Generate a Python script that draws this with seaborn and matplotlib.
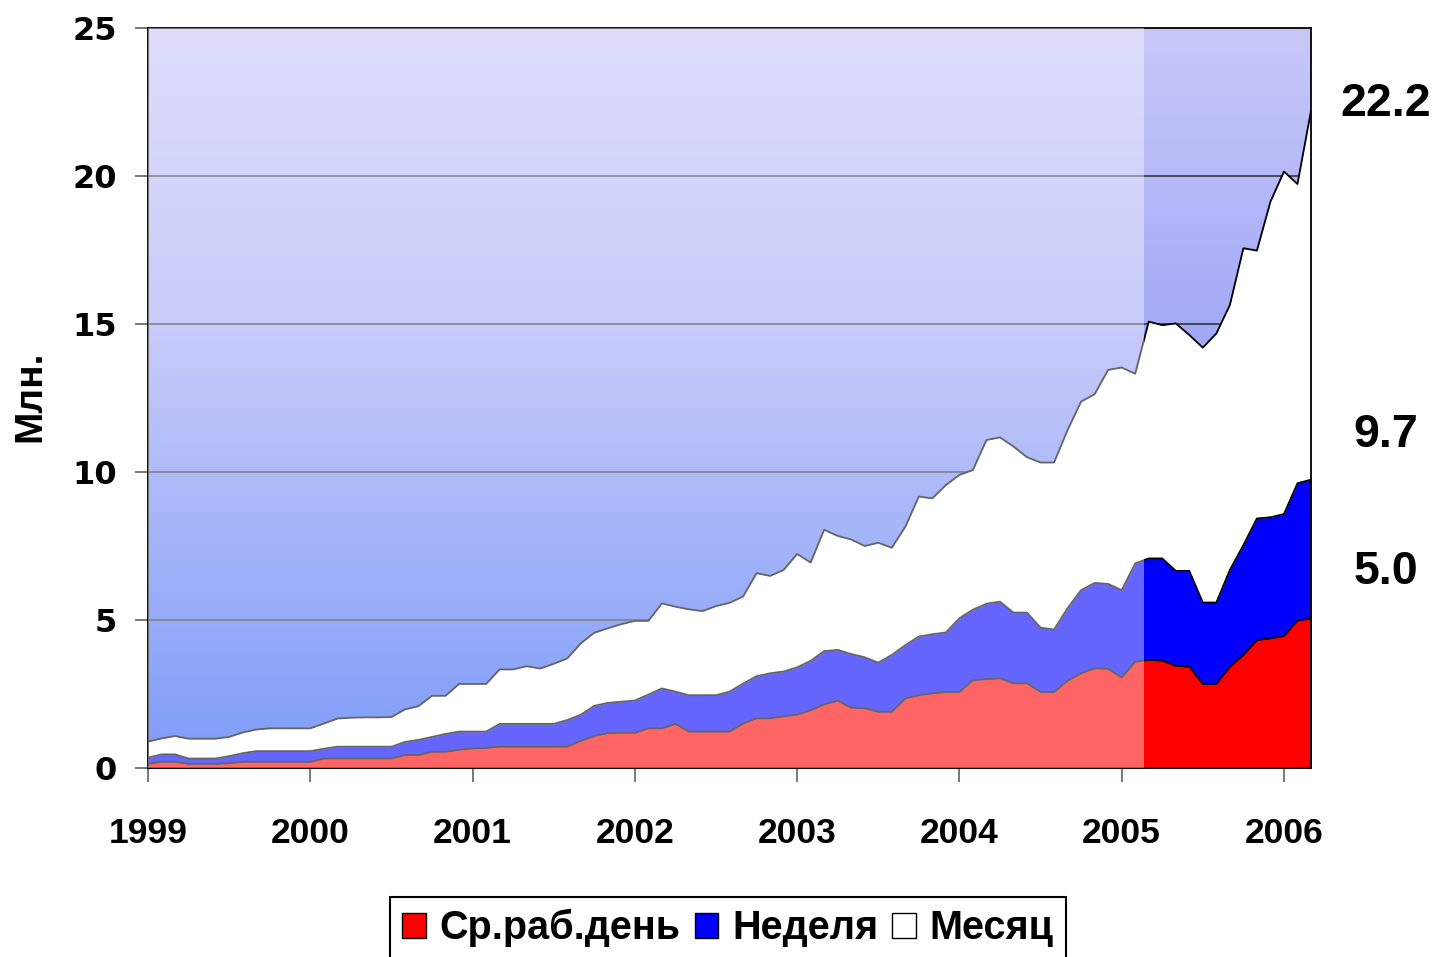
import numpy as np
import pandas as pd
import matplotlib.pyplot as plt
import seaborn as sns
from matplotlib.colors import LinearSegmentedColormap
from matplotlib.patches import Patch

# ── Data: monthly audience, mln (Jan 1999 .. Mar 2006) ─────────
month_idx = np.arange(87)
month_aud = [0.89, 1.00, 1.08, 0.99, 0.99, 0.99, 1.05, 1.20, 1.30, 1.34, 1.34, 1.34,
             1.34, 1.50, 1.67, 1.70, 1.71, 1.71, 1.72, 1.98, 2.09, 2.44, 2.44, 2.84,
             2.84, 2.84, 3.33, 3.33, 3.44, 3.36, 3.52, 3.70, 4.21, 4.57, 4.72, 4.86,
             4.97, 4.97, 5.56, 5.45, 5.36, 5.30, 5.47, 5.58, 5.79, 6.58, 6.49, 6.69,
             7.23, 6.94, 8.05, 7.84, 7.72, 7.50, 7.61, 7.44, 8.15, 9.17, 9.11, 9.56,
             9.90, 10.07, 11.08, 11.17, 10.86, 10.50, 10.32, 10.32, 11.42, 12.38, 12.63, 13.45,
             13.53, 13.32, 15.08, 14.96, 15.02, 14.63, 14.20, 14.68, 15.64, 17.56, 17.48, 19.13,
             20.15, 19.73, 22.20]
week_aud = [0.35, 0.46, 0.46, 0.32, 0.32, 0.32, 0.40, 0.50, 0.57, 0.57, 0.57, 0.57,
            0.57, 0.65, 0.72, 0.72, 0.72, 0.72, 0.72, 0.88, 0.95, 1.05, 1.15, 1.23,
            1.23, 1.23, 1.49, 1.49, 1.49, 1.49, 1.49, 1.62, 1.80, 2.10, 2.20, 2.24,
            2.28, 2.48, 2.69, 2.58, 2.46, 2.46, 2.46, 2.58, 2.85, 3.10, 3.20, 3.26,
            3.40, 3.62, 3.95, 3.99, 3.85, 3.74, 3.56, 3.82, 4.15, 4.44, 4.52, 4.58,
            5.06, 5.35, 5.55, 5.62, 5.25, 5.25, 4.74, 4.68, 5.40, 6.01, 6.25, 6.22,
            6.01, 6.91, 7.08, 7.08, 6.66, 6.66, 5.59, 5.59, 6.69, 7.53, 8.43, 8.47,
            8.58, 9.62, 9.74]
day_aud = [0.14, 0.21, 0.21, 0.14, 0.14, 0.14, 0.16, 0.21, 0.21, 0.21, 0.21, 0.21,
           0.21, 0.32, 0.32, 0.32, 0.32, 0.32, 0.32, 0.44, 0.44, 0.55, 0.55, 0.62,
           0.66, 0.68, 0.72, 0.72, 0.72, 0.72, 0.72, 0.72, 0.92, 1.08, 1.18, 1.19,
           1.19, 1.34, 1.34, 1.49, 1.23, 1.23, 1.23, 1.23, 1.50, 1.68, 1.68, 1.75,
           1.80, 1.95, 2.15, 2.27, 2.04, 2.02, 1.90, 1.90, 2.35, 2.46, 2.52, 2.57,
           2.57, 2.97, 3.00, 3.03, 2.86, 2.86, 2.57, 2.57, 2.95, 3.20, 3.37, 3.35,
           3.06, 3.59, 3.65, 3.63, 3.45, 3.42, 2.84, 2.84, 3.42, 3.82, 4.32, 4.38,
           4.46, 4.98, 5.05]
series_names = ['Ср.раб.день', 'Неделя', 'Месяц']
year_ticks = list(range(1999, 2007))
end_labels = ['22.2', '9.7', '5.0']

df = pd.DataFrame({'t': 1999 + month_idx / 12,
                   'Месяц': month_aud, 'Неделя': week_aud, 'Ср.раб.день': day_aud})

# ── Figure ─────────────────────────────────────────────
sns.set_style('white')
plt.rcParams['font.family'] = ['Liberation Sans', 'DejaVu Sans']
plt.rcParams['font.weight'] = 'bold'
plt.rcParams['text.color'] = 'black'
plt.rcParams['xtick.labelcolor'] = 'black'
plt.rcParams['ytick.labelcolor'] = 'black'

fig = plt.figure(figsize=(14.37, 9.57), dpi=100)
ax = fig.add_axes([148/1437, 1 - 768/957, (1311 - 148)/1437, (768 - 28)/957])

x0, x1 = df['t'].iloc[0], df['t'].iloc[-1]
ax.set_xlim(x0, x1)
ax.set_ylim(0, 25)

# background gradient
bg = LinearSegmentedColormap.from_list('bg', [(0.0, (40/255, 90/255, 244/255)),
                                              (0.6, (165/255, 170/255, 246/255)),
                                              (1.0, (200/255, 200/255, 248/255))])
grad = np.linspace(0, 1, 256).reshape(-1, 1)
ax.imshow(grad, cmap=bg, origin='lower', aspect='auto', extent=[x0, x1, 0, 25], zorder=0)

for g in [5, 10, 15, 20]:
    ax.axhline(g, color='#2a2a2a', lw=1.1, zorder=1)

ax.fill_between(df['t'], 0, df['Месяц'], color='white', lw=0, zorder=2)
ax.fill_between(df['t'], 0, df['Неделя'], color='#0000ff', lw=0, zorder=3)
ax.fill_between(df['t'], 0, df['Ср.раб.день'], color='#ff0000', lw=0, zorder=4)
for col in ['Месяц', 'Неделя', 'Ср.раб.день']:
    sns.lineplot(data=df, x='t', y=col, color='black', lw=1.3, ax=ax, zorder=5)

# faded history
ax.axvspan(x0, 2005.135, color='white', alpha=0.4, lw=0, zorder=7)

for s in ax.spines.values():
    s.set_visible(True)
    s.set_color('black')
    s.set_linewidth(1.3)
    s.set_zorder(6)

ax.set_xlabel('')
ax.set_ylabel('')
ax.set_xticks(year_ticks)
ax.set_xticklabels([str(y) for y in year_ticks], fontsize=25.5, fontweight='bold')
ax.set_yticks([0, 5, 10, 15, 20, 25])
ax.set_yticklabels(['0', '5', '10', '15', '20', '25'], fontsize=23, fontweight='bold',
                   family='DejaVu Sans')
ax.tick_params(axis='x', direction='out', length=10, width=1.2, color='#606060', pad=25,
               bottom=True)
ax.tick_params(axis='y', direction='out', length=9.5, width=1.2, color='#606060', pad=13,
               left=True)

fig.text(30/1437, 1 - 396/957, 'Млн.', rotation=90, fontsize=28, fontweight='bold',
         ha='center', va='center')

for lab, ypx in zip(end_labels, [104, 435, 572]):
    fig.text(1386/1437, 1 - ypx/957, lab, fontsize=33.5, fontweight='bold',
             ha='center', va='center')

handles = [Patch(facecolor='#ff0000', edgecolor='black', lw=1),
           Patch(facecolor='#0000ff', edgecolor='black', lw=1),
           Patch(facecolor='white', edgecolor='black', lw=1)]
leg = fig.legend(handles, series_names, loc='upper center', ncol=3,
                 bbox_to_anchor=(728/1437, 1 - 897/957), fontsize=28.5,
                 frameon=True, fancybox=False, edgecolor='black', framealpha=1,
                 handlelength=0.6, handleheight=0.6, handletextpad=0.35,
                 columnspacing=0.35, borderpad=0.3, borderaxespad=0)
leg.get_frame().set_linewidth(1.5)
for t in leg.get_texts():
    t.set_fontweight('bold')

fig.savefig('out.png', dpi=100)
